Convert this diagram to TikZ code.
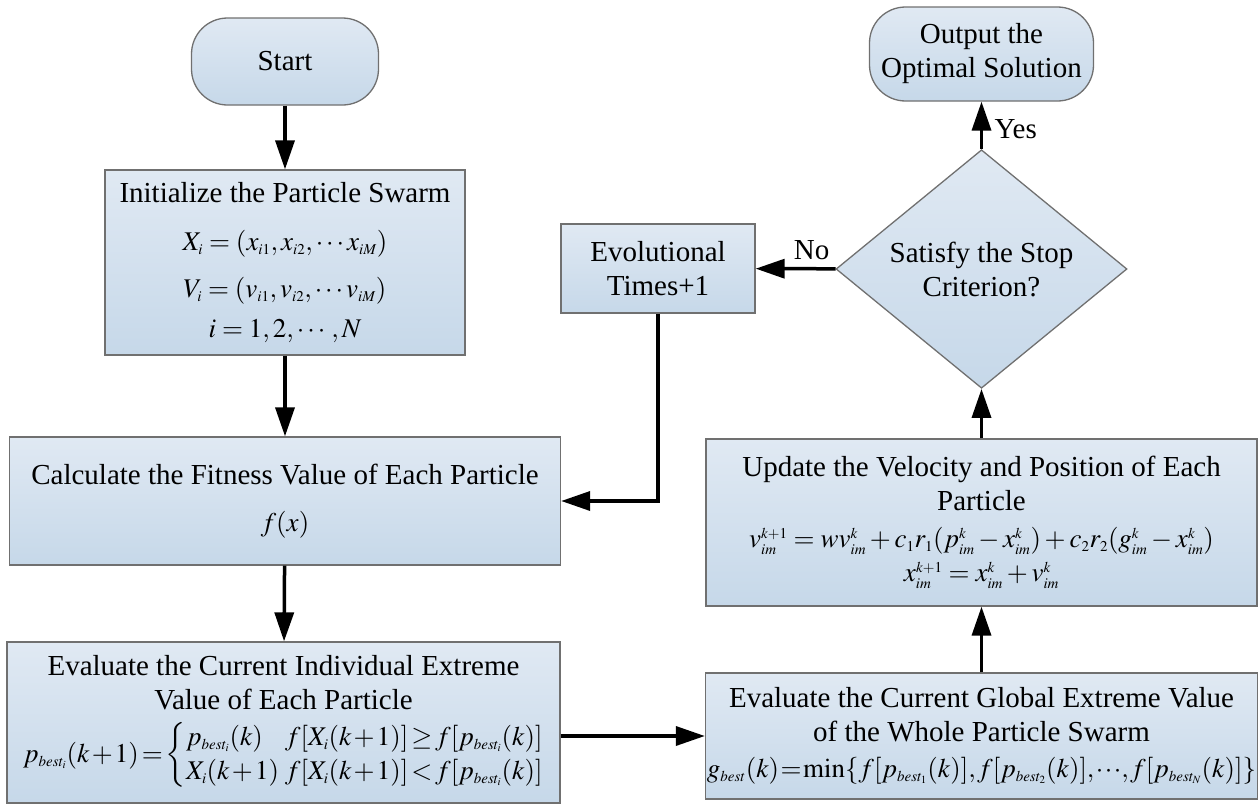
\documentclass[tikz,border=0pt]{standalone}
\usepackage{amsmath}
\usepackage{mathptmx}
\usepackage{fontspec}
\setmainfont{Liberation Serif}
\usetikzlibrary{arrows.meta, shapes.geometric}
\definecolor{boxtop}{RGB}{224,233,243}
\definecolor{boxbot}{RGB}{198,216,233}
\definecolor{boxline}{RGB}{112,112,112}
\DeclareMathSizes{29}{27}{15}{11}
\newcommand{\tightmath}{\thickmuskip=2mu\medmuskip=1.5mu\thinmuskip=1mu}

\begin{document}
\begin{tikzpicture}[x=1pt, y=-1pt, ->, >={Triangle[length=29pt, width=19pt]}, line width=3.5pt,
    font=\fontsize{29}{34}\selectfont,
    block/.style={rectangle, draw=boxline, line width=1.3pt, top color=boxtop, bottom color=boxbot, align=center, inner sep=0pt},
    term/.style={block, rounded corners=36pt},
    decision/.style={block, diamond}]
        \useasboundingbox (0,0) rectangle (1258,806);

        \node[term, minimum width=187pt, minimum height=87pt] (start) at (285,61.5) {Start};
        \node[block, minimum width=360pt, minimum height=185pt] (init) at (285,262.5) {Initialize the Particle Swarm\\[14pt] $X_i=(x_{i1},x_{i2},\cdots x_{iM})$\\[13pt] $V_i=(v_{i1},v_{i2},\cdots v_{iM})$\\[6pt] $i=1,2,\cdots,N$};
        \node[block, minimum width=551pt, minimum height=128pt] (calc) at (285,501) {Calculate the Fitness Value of Each Particle\\[13pt] $f(x)$};
        \node[block, minimum width=553pt, minimum height=161pt] (ind) at (283.5,722.5) {Evaluate the Current Individual Extreme\\Value of Each Particle\\[10pt] \tightmath$p_{best_i}(k+1)=\left\{\renewcommand{\arraystretch}{1.0}\begin{array}{@{}l@{\;\;}l@{}} p_{best_i}(k) & f[X_i(k+1)]\geq f[p_{best_i}(k)]\\ X_i(k+1) & f[X_i(k+1)]<f[p_{best_i}(k)]\end{array}\right.$};
        \node[block, minimum width=552pt, minimum height=126pt] (glob) at (981.5,736) {Evaluate the Current Global Extreme Value\\of the Whole Particle Swarm\\[2pt] \tightmath$g_{best}(k)\mkern-1mu=\mkern-1mu\min\{f[p_{best_1}(k)],f[p_{best_2}(k)],\cdots\!,f[p_{best_N}(k)]\}$};
        \node[block, minimum width=551pt, minimum height=167pt] (upd) at (981.5,522.5) {Update the Velocity and Position of Each\\Particle\\[3pt] $v_{im}^{k+1}=wv_{im}^k+c_1r_1(p_{im}^k-x_{im}^k)+c_2r_2(g_{im}^k-x_{im}^k)$\\ $x_{im}^{k+1}=x_{im}^k+v_{im}^k$};
        \node[decision, minimum width=291pt, minimum height=216pt] (stop) at (981.5,269) {Satisfy the Stop\\Criterion?};
        \node[block, minimum width=194pt, minimum height=89pt] (evol) at (658,268.5) {Evolutional\\Times+1};
        \node[term, minimum width=224pt, minimum height=94pt] (out) at (981.5,54) {Output the\\Optimal Solution};

        \path (start) edge (init)
        (init) edge (calc)
        (calc) edge (ind)
        (glob.west -| ind.east) edge (glob.west)
        (glob) edge (upd)
        (upd) edge (stop)
        (stop) edge node[right=8pt, pos=0.42] {Yes} (out)
        (stop) edge node[above=4pt, pos=0.3] {No} (evol);
        \draw (evol.south) |- (calc.east);
      \end{tikzpicture}
\end{document}
